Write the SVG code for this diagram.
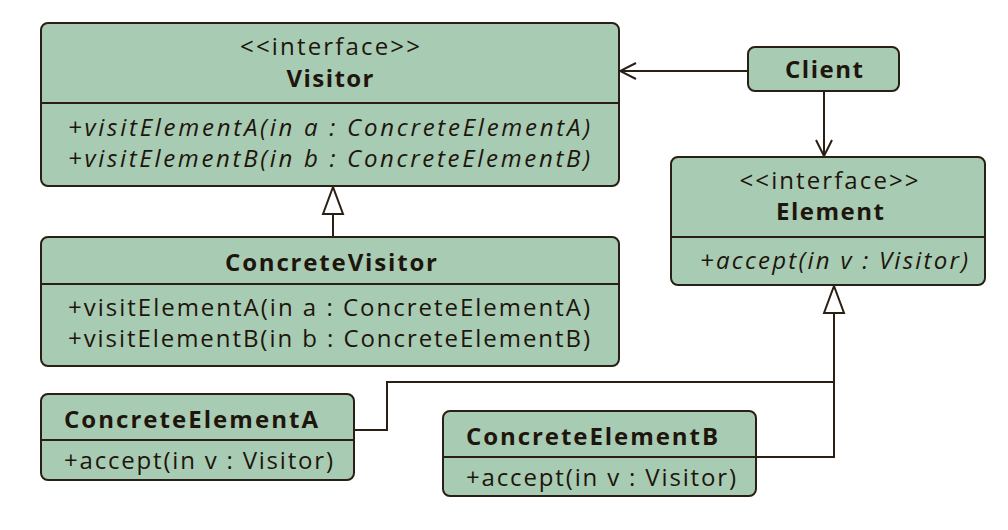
<svg xmlns="http://www.w3.org/2000/svg" width="1008" height="530" viewBox="0 0 1008 530">
<style>
.box{fill:#a8cbb4;stroke:#2a1f14;stroke-width:2}
.div{stroke:#2a1f14;stroke-width:2}
.t{font-family:"Open Sans","Noto Sans",sans-serif;font-size:24px;fill:#1e150c}
.b{font-weight:bold}
.i{font-style:italic}
.c{text-anchor:middle}
.ln{fill:none;stroke:#2a1f14;stroke-width:2}
</style>
<defs>
<marker id="open" viewBox="0 0 20 20" refX="18" refY="10" markerWidth="20" markerHeight="20" markerUnits="userSpaceOnUse" orient="auto">
<path d="M2,2 L18,10 L2,18" fill="none" stroke="#2a1f14" stroke-width="2"/>
</marker>
<marker id="tri" viewBox="0 0 30 24" refX="28" refY="12" markerWidth="30" markerHeight="24" markerUnits="userSpaceOnUse" orient="auto">
<path d="M1,2 L28,12 L1,22 Z" fill="#ffffff" stroke="#2a1f14" stroke-width="2"/>
</marker>
</defs>
<rect width="1008" height="530" fill="#ffffff"/>
<g id="connectors">
<path class="ln" d="M748,71 L620,71" marker-end="url(#open)"/>
<path class="ln" d="M824,91 L824,156" marker-end="url(#open)"/>
<path class="ln" d="M333,237 L333,187" marker-end="url(#tri)"/>
<path class="ln" d="M354,430 L387,430 L387,382 L834,382"/>
<path class="ln" d="M756,457 L834,457 L834,286" marker-end="url(#tri)"/>
</g>
<g id="visitor">
<rect class="box" x="41" y="23" width="578" height="163" rx="7"/>
<line class="div" x1="41" y1="103" x2="619" y2="103"/>
<text class="t c" x="330" y="55" textLength="180">&lt;&lt;interface&gt;&gt;</text>
<text class="t b c" x="330" y="87" textLength="87">Visitor</text>
<text class="t i" x="68" y="136" textLength="522">+visitElementA(in a : ConcreteElementA)</text>
<text class="t i" x="68" y="167" textLength="522">+visitElementB(in b : ConcreteElementB)</text>
</g>
<g id="concretevisitor">
<rect class="box" x="41" y="237" width="578" height="129" rx="7"/>
<line class="div" x1="41" y1="284" x2="619" y2="284"/>
<text class="t b c" x="331" y="271" textLength="212">ConcreteVisitor</text>
<text class="t" x="68" y="316" textLength="522">+visitElementA(in a : ConcreteElementA)</text>
<text class="t" x="68" y="347" textLength="522">+visitElementB(in b : ConcreteElementB)</text>
</g>
<g id="client">
<rect class="box" x="748" y="47" width="151" height="44" rx="7"/>
<text class="t b c" x="824" y="78" textLength="78">Client</text>
</g>
<g id="element">
<rect class="box" x="671" y="157" width="314" height="128" rx="7"/>
<line class="div" x1="671" y1="237" x2="985" y2="237"/>
<text class="t c" x="829" y="189" textLength="179">&lt;&lt;interface&gt;&gt;</text>
<text class="t b c" x="830" y="220" textLength="108">Element</text>
<text class="t i" x="700" y="269" textLength="268">+accept(in v : Visitor)</text>
</g>
<g id="concreteelementa">
<rect class="box" x="41" y="394" width="313" height="86" rx="7"/>
<line class="div" x1="41" y1="440" x2="354" y2="440"/>
<text class="t b" x="64" y="428" textLength="254">ConcreteElementA</text>
<text class="t" x="64" y="469" textLength="269">+accept(in v : Visitor)</text>
</g>
<g id="concreteelementb">
<rect class="box" x="443" y="411" width="313" height="85" rx="7"/>
<line class="div" x1="443" y1="457" x2="756" y2="457"/>
<text class="t b" x="466" y="445" textLength="252">ConcreteElementB</text>
<text class="t" x="466" y="486" textLength="270">+accept(in v : Visitor)</text>
</g>
</svg>
